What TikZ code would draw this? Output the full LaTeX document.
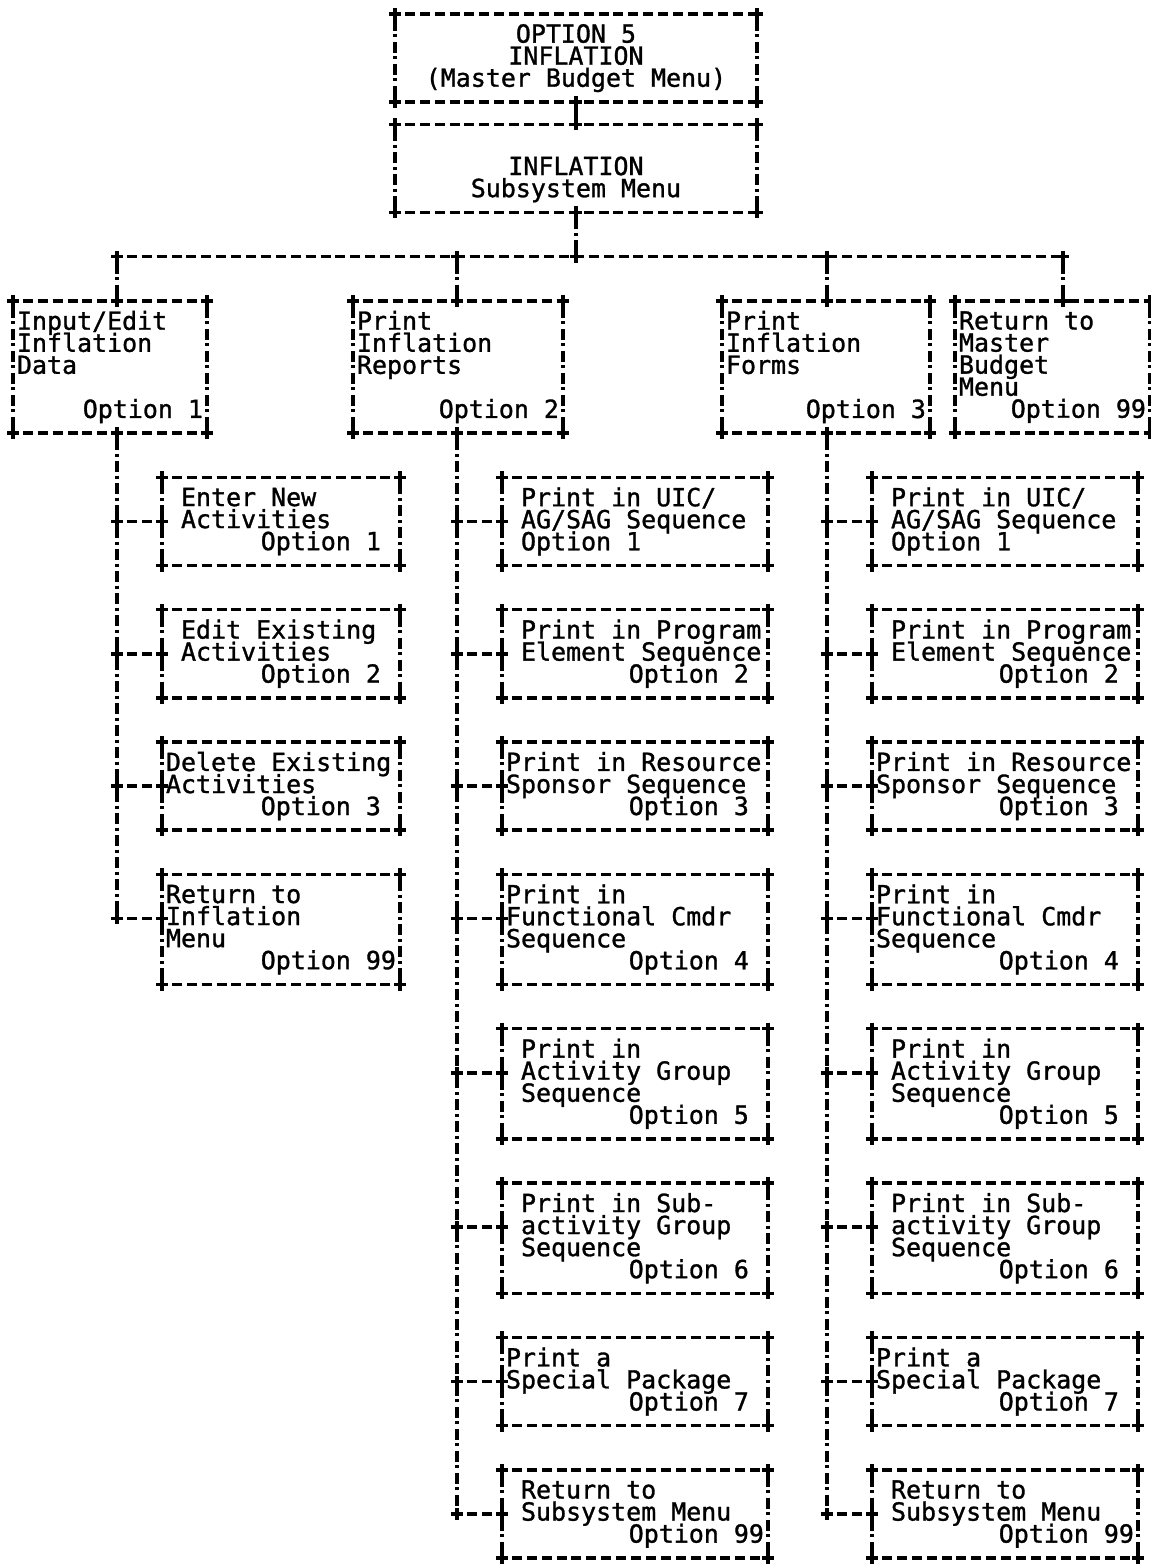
\documentclass[tikz,border=0pt]{standalone}
\usepackage{fontspec}
\newfontfamily\ttyfont[FakeBold=1.2]{DejaVu Sans Mono}
\usetikzlibrary{positioning}

\newcommand\ind{\hphantom{x}}
\newcommand\rt[1]{\makebox[\linewidth][r]{#1}}
\newcommand\rowstrut{\rule[-2pt]{0pt}{12.55pt}}
\newcommand\plusat[1]{\draw[plusmark] (#1) +(-6,0) -- +(6,0) +(0,-6) -- +(0,6);}
\newcommand\asciiframe[1]{%
  \draw[hline] (#1.north west) -- (#1.north east);
  \draw[hline] (#1.south west) -- (#1.south east);
  \draw[vline] (#1.north west) -- (#1.south west);
  \draw[vline] (#1.north east) -- (#1.south east);
  \plusat{#1.north west}\plusat{#1.north east}%
  \plusat{#1.south west}\plusat{#1.south east}}

\begin{document}
\begin{tikzpicture}[x=0.02cm, y=-0.02cm,
    node distance=0.8824cm,
    hline/.style={line width=2pt, dash pattern=on 0.2cm off 0.098cm, dash phase=0.1cm},
    vline/.style={line width=2pt, dash pattern=on 0.22cm off 0.07cm on 0.06cm off 0.09cm, dash phase=0.32cm},
    plusmark/.style={line width=2pt},
    menu/.style={font=\ttyfont\fontsize{14.2pt}{12.55pt}\selectfont, inner xsep=0.08cm, inner ysep=0pt,
        outer sep=0pt, align=left, anchor=north west,
        execute at begin node={\spaceskip=0.602em\relax\lineskiplimit=-\maxdimen\rowstrut},
        execute at end node=\rowstrut},
    wd/.style={minimum width=#1, text width=#1-0.16cm},
    rows/.style={minimum height=#1*0.4412cm}
  ]
    \useasboundingbox (0,0) rectangle (1151,1564);
    \fill[white] (0,0) rectangle (1151,1564);

    % main menus
    \node[menu, wd=7.24cm, rows=4, align=center] (top) at (395,14) {OPTION 5\\INFLATION\\(Master~Budget~Menu)};
    \node[menu, wd=7.24cm, rows=4, align=center, below=0.4412cm of top] (subsys) {\mbox{}\\INFLATION\\Subsystem~Menu};

    \coordinate (j1) at (117,256.7);
    \coordinate (j2) at (457,256.7);
    \coordinate (j3) at (827,256.7);
    \coordinate (j4) at (1063,256.7);

    % subsystem options
    \node[menu, wd=3.88cm, rows=6] (inp) at (13,300.8) {Input/Edit\\Inflation\\Data\\\mbox{}\\\rt{Option 1}};
    \node[menu, wd=4.2cm, rows=6] (rep) at (353,300.8) {Print\\Inflation\\Reports\\\mbox{}\\\rt{Option 2}};
    \node[menu, wd=4.16cm, rows=6] (frm) at (722,300.8) {Print\\Inflation\\Forms\\\mbox{}\\\rt{Option 3}};
    \node[menu, wd=3.9cm, rows=6] (mret) at (955,300.8) {Return~to\\Master\\Budget\\Menu\\\rt{Option 99}};

    % input/edit options
    \node[menu, wd=4.76cm, rows=4] (l1) at (162,477.3) {\ind Enter~New\\\ind Activities\\\rt{Option 1\ind}};
    \node[menu, wd=4.76cm, rows=4, below=of l1] (l2) {\ind Edit~Existing\\\ind Activities\\\rt{Option 2\ind}};
    \node[menu, wd=4.76cm, rows=4, below=of l2] (l3) {Delete~Existing\\Activities\\\rt{Option 3\ind}};
    \node[menu, wd=4.76cm, rows=5, below=of l3] (l4) {Return~to\\Inflation\\Menu\\\rt{Option 99}};

    % report and form options
    \foreach \c/\x in {m/502, r/872} {
      \node[menu, wd=5.32cm, rows=4] (\c1) at (\x,477.3) {\ind Print~in~UIC/\\\ind AG/SAG~Sequence\\\ind Option~1};
      \node[menu, wd=5.32cm, rows=4, below=of \c1] (\c2) {\ind Print~in~Program\\\ind Element~Sequence\\\rt{Option 2\ind}};
      \node[menu, wd=5.32cm, rows=4, below=of \c2] (\c3) {Print~in~Resource\\Sponsor~Sequence\\\rt{Option 3\ind}};
      \node[menu, wd=5.32cm, rows=5, below=of \c3] (\c4) {Print~in\\Functional~Cmdr\\Sequence\\\rt{Option 4\ind}};
      \node[menu, wd=5.32cm, rows=5, below=of \c4] (\c5) {\ind Print~in\\\ind Activity~Group\\\ind Sequence\\\rt{Option 5\ind}};
      \node[menu, wd=5.32cm, rows=5, below=of \c5] (\c6) {\ind Print~in~Sub-\\\ind activity~Group\\\ind Sequence\\\rt{Option 6\ind}};
      \node[menu, wd=5.32cm, rows=4, below=of \c6] (\c7) {Print~a\\Special~Package\\\rt{Option 7\ind}};
      \node[menu, wd=5.32cm, rows=4, below=of \c7] (\c8) {\ind Return~to\\\ind Subsystem~Menu\\\rt{Option 99}};
    }

    % connectors
    \draw[vline] (top.south) -- (subsys.north);
    \draw[vline] (subsys.south) -- (subsys.south |- j1);
    \draw[hline] (j1) -- (j4);
    \foreach \j/\b in {j1/inp, j2/rep, j3/frm, j4/mret} {
      \draw[vline] (\j) -- (\j |- \b.north);
      \plusat{\j}
      \plusat{\j |- \b.north}
    }
    \foreach \b/\j in {l1/j1, l2/j1, l3/j1, l4/j1, m1/j2, m2/j2, m3/j2, m4/j2, m5/j2, m6/j2, m7/j2, m8/j2,
                       r1/j3, r2/j3, r3/j3, r4/j3, r5/j3, r6/j3, r7/j3, r8/j3} {
      \coordinate (\b-in) at ([yshift=-0.8824cm]\b.north west);
      \draw[hline] (\b-in -| \j) -- (\b-in);
      \plusat{\b-in -| \j}
      \plusat{\b-in}
    }
    \draw[vline] (j1 |- inp.south) -- (j1 |- l4-in);
    \draw[vline] (j2 |- rep.south) -- (j2 |- m8-in);
    \draw[vline] (j3 |- frm.south) -- (j3 |- r8-in);

    % boxes
    \foreach \b in {top, subsys, inp, rep, frm, mret, l1, l2, l3, l4,
                    m1, m2, m3, m4, m5, m6, m7, m8, r1, r2, r3, r4, r5, r6, r7, r8} {
      \asciiframe{\b}
    }
    \plusat{top.south}
    \plusat{subsys.north}
    \plusat{subsys.south}
    \plusat{subsys.south |- j1}
    \plusat{j1 |- inp.south}
    \plusat{j2 |- rep.south}
    \plusat{j3 |- frm.south}
\end{tikzpicture}
\end{document}
